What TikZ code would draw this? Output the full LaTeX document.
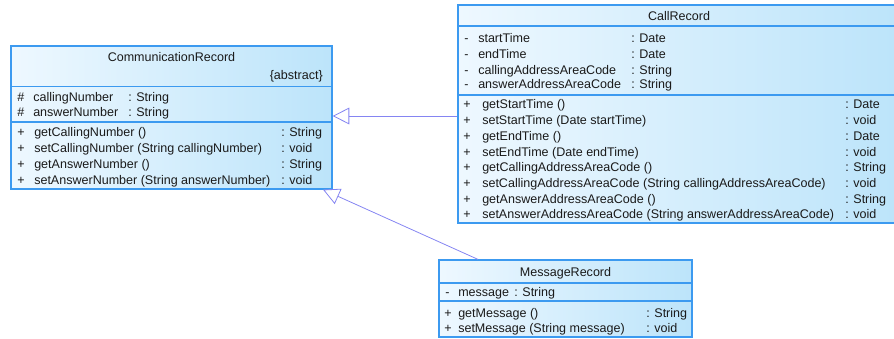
\documentclass[tikz,border=0pt]{standalone}
\usepackage{fontspec}
\setmainfont{Liberation Sans}
\usetikzlibrary{arrows.meta,fit}
\definecolor{boxline}{HTML}{3C9AF0}
\definecolor{shadeL}{HTML}{EEF8FF}
\definecolor{shadeR}{HTML}{BCE4FA}
\definecolor{genline}{HTML}{8585F2}
\definecolor{txt}{HTML}{1A1A1A}
\tikzset{
  umlbox/.style={draw=boxline, line width=0.9pt, inner sep=0pt, left color=shadeL, right color=shadeR},
  divider/.style={draw=boxline, line width=0.9pt},
  lbl/.style={inner sep=0pt, anchor=west, text height=9pt, text depth=1.9pt, font=\fontsize{9.4}{10}\selectfont, text=txt},
  rlbl/.style={lbl, anchor=east},
  ttl/.style={lbl, anchor=center},
  gen/.style={draw=genline, line width=0.6pt, -{Triangle[open, length=12.5pt, width=12.5pt, fill=white]}}
}
\begin{document}
\begin{tikzpicture}[x=0.75pt,y=-0.75pt]
\useasboundingbox (0,0) rectangle (894,339);
% ---------- CommunicationRecord ----------
\node[umlbox, fit={(11,46) (332,189)}] (comm) {};
\draw[divider] (comm.west |- 0,86.5) -- (comm.east |- 0,86.5);
\draw[divider] (comm.west |- 0,122) -- (comm.east |- 0,122);
\node[ttl] (commname) at (171.5,57) {CommunicationRecord};
\node[rlbl] (commabs) at (323,75) {\{abstract\}};
\node[lbl] (ca1v) at (17,97) {\#};
\node[lbl] (ca1n) at (33,97) {callingNumber};
\node[lbl] (ca1t) at (128,97) {: String};
\node[lbl] (ca2v) at (17,112) {\#};
\node[lbl] (ca2n) at (33,112) {answerNumber};
\node[lbl] (ca2t) at (128,112) {: String};
\node[lbl] (cm1v) at (17,132) {+};
\node[lbl] (cm1n) at (34,132) {getCallingNumber ()};
\node[lbl] (cm1t) at (281,132) {: String};
\node[lbl] (cm2v) at (17,148) {+};
\node[lbl] (cm2n) at (34,148) {setCallingNumber (String callingNumber)};
\node[lbl] (cm2t) at (281,148) {: void};
\node[lbl] (cm3v) at (17,164) {+};
\node[lbl] (cm3n) at (34,164) {getAnswerNumber ()};
\node[lbl] (cm3t) at (281,164) {: String};
\node[lbl] (cm4v) at (17,180) {+};
\node[lbl] (cm4n) at (34,180) {setAnswerNumber (String answerNumber)};
\node[lbl] (cm4t) at (281,180) {: void};
% ---------- CallRecord ----------
\node[umlbox, fit={(458,5) (900,223)}] (call) {};
\draw[divider] (call.west |- 0,26) -- (call.east |- 0,26);
\draw[divider] (call.west |- 0,95) -- (call.east |- 0,95);
\node[ttl] (callname) at (679,16) {CallRecord};
\node[lbl] (ra1v) at (464,38) {-};
\node[lbl] (ra1n) at (478,38) {startTime};
\node[lbl] (ra1t) at (631,38) {: Date};
\node[lbl] (ra2v) at (464,54) {-};
\node[lbl] (ra2n) at (478,54) {endTime};
\node[lbl] (ra2t) at (631,54) {: Date};
\node[lbl] (ra3v) at (464,69.5) {-};
\node[lbl] (ra3n) at (478,69.5) {callingAddressAreaCode};
\node[lbl] (ra3t) at (631,69.5) {: String};
\node[lbl] (ra4v) at (464,84) {-};
\node[lbl] (ra4n) at (478,84) {answerAddressAreaCode};
\node[lbl] (ra4t) at (631,84) {: String};
\node[lbl] (rm1v) at (463,104) {+};
\node[lbl] (rm1n) at (482,104) {getStartTime ()};
\node[lbl] (rm1t) at (845,104) {: Date};
\node[lbl] (rm2v) at (463,120) {+};
\node[lbl] (rm2n) at (482,120) {setStartTime (Date startTime)};
\node[lbl] (rm2t) at (845,120) {: void};
\node[lbl] (rm3v) at (463,136) {+};
\node[lbl] (rm3n) at (482,136) {getEndTime ()};
\node[lbl] (rm3t) at (845,136) {: Date};
\node[lbl] (rm4v) at (463,151.5) {+};
\node[lbl] (rm4n) at (482,151.5) {setEndTime (Date endTime)};
\node[lbl] (rm4t) at (845,151.5) {: void};
\node[lbl] (rm5v) at (463,167) {+};
\node[lbl] (rm5n) at (482,167) {getCallingAddressAreaCode ()};
\node[lbl] (rm5t) at (845,167) {: String};
\node[lbl] (rm6v) at (463,183) {+};
\node[lbl] (rm6n) at (482,183) {setCallingAddressAreaCode (String callingAddressAreaCode)};
\node[lbl] (rm6t) at (845,183) {: void};
\node[lbl] (rm7v) at (463,198.5) {+};
\node[lbl] (rm7n) at (482,198.5) {getAnswerAddressAreaCode ()};
\node[lbl] (rm7t) at (845,198.5) {: String};
\node[lbl] (rm8v) at (463,214) {+};
\node[lbl] (rm8n) at (482,214) {setAnswerAddressAreaCode (String answerAddressAreaCode)};
\node[lbl] (rm8t) at (845,214) {: void};
% ---------- MessageRecord ----------
\node[umlbox, fit={(439,260) (692,337)}] (msg) {};
\draw[divider] (msg.west |- 0,283) -- (msg.east |- 0,283);
\draw[divider] (msg.west |- 0,301) -- (msg.east |- 0,301);
\node[ttl] (msgname) at (565.5,271.5) {MessageRecord};
\node[lbl] (ma1v) at (445,292) {-};
\node[lbl] (ma1n) at (458,292) {message};
\node[lbl] (ma1t) at (514,292) {: String};
\node[lbl] (mm1v) at (444,313) {+};
\node[lbl] (mm1n) at (458,313) {getMessage ()};
\node[lbl] (mm1t) at (646,313) {: String};
\node[lbl] (mm2v) at (444,328) {+};
\node[lbl] (mm2n) at (458,328) {setMessage (String message)};
\node[lbl] (mm2t) at (646,328) {: void};
% ---------- generalizations ----------
\draw[gen] (call.west |- 0,116) -- (comm.east |- 0,116);
\draw[gen] (msg.north -| 478,0) -- (comm.south -| 323,0);
\end{tikzpicture}
\end{document}
